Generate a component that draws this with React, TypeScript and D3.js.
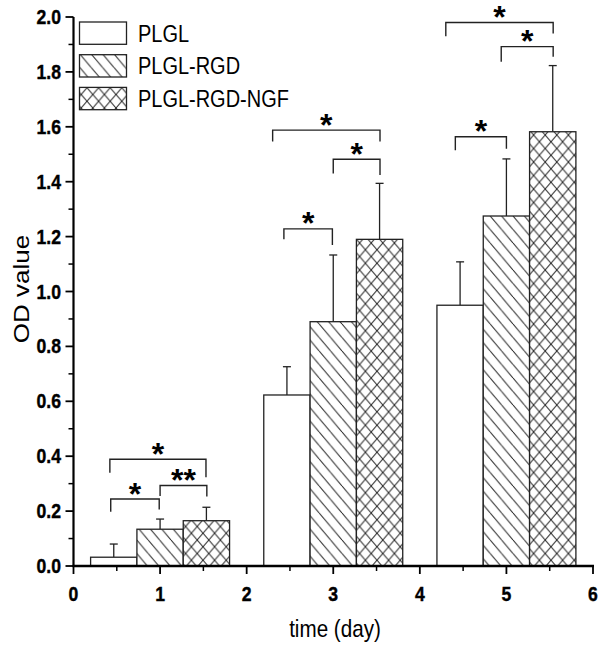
import React from "react";
import * as d3 from "d3";

const days = [1, 3, 5];
const seriesNames = ["PLGL", "PLGL-RGD", "PLGL-RGD-NGF"];
const plglMean = [0.032, 0.623, 0.95];
const plglErr = [0.048, 0.103, 0.158];
const rgdMean = [0.134, 0.89, 1.275];
const rgdErr = [0.037, 0.243, 0.208];
const ngfMean = [0.165, 1.19, 1.582];
const ngfErr = [0.049, 0.204, 0.241];
const xTicks = [0, 1, 2, 3, 4, 5, 6];
const yTicks = [0, 0.2, 0.4, 0.6, 0.8, 1.0, 1.2, 1.4, 1.6, 1.8, 2.0];

// significance brackets: x1, x2 (day units), y (OD), drops of left/right legs (OD), label
const bracketX1 = [0.42, 0.43, 1.0, 2.3, 3.0, 2.43, 4.3, 4.94, 4.41];
const bracketX2 = [1.53, 0.99, 1.54, 3.54, 3.54, 2.99, 5.54, 5.54, 5.0];
const bracketY = [0.389, 0.244, 0.293, 1.588, 1.482, 1.228, 1.98, 1.892, 1.564];
const bracketDrop1 = [0.049, 0.046, 0.038, 0.042, 0.052, 0.038, 0.05, 0.055, 0.049];
const bracketDrop2 = [0.066, 0.038, 0.04, 0.042, 0.058, 0.059, 0.04, 0.037, 0.044];
const bracketLabel = ["*", "*", "**", "*", "*", "*", "*", "*", "*"];

const BAR_W = 0.535;
const FONT = "'Liberation Sans', Arial, sans-serif";
const SQ = 0.88;

export default function App() {
  const x = d3.scaleLinear().domain([0, 6]).range([73.5, 593]);
  const y = d3.scaleLinear().domain([0, 2]).range([566, 17]);

  const series = [
    { name: seriesNames[0], mean: plglMean, err: plglErr, fill: "#fff", off: -1 },
    { name: seriesNames[1], mean: rgdMean, err: rgdErr, fill: "url(#hatch)", off: 0 },
    { name: seriesNames[2], mean: ngfMean, err: ngfErr, fill: "url(#cross)", off: 1 },
  ];

  const minorY = d3.range(0.1, 2.0, 0.2);
  const minorX = d3.range(0.5, 6, 1);
  const stroke = "#222";

  return (
    <svg width={600} height={652} style={{ position: "absolute", left: 0, top: 0, background: "#fff" }}>
      <defs>
        <pattern id="hatch" patternUnits="userSpaceOnUse" width={11.4} height={13.5}>
          <rect width={11.4} height={13.5} fill="#fff" />
          <path d="M0,0 L11.4,13.5 M-11.4,0 L0,13.5 M11.4,0 L22.8,13.5" stroke="#222" strokeWidth={1} />
        </pattern>
        <pattern id="cross" patternUnits="userSpaceOnUse" width={11.6} height={13.5}>
          <rect width={11.6} height={13.5} fill="#fff" />
          <path d="M0,0 L11.6,13.5 M11.6,0 L0,13.5" stroke="#222" strokeWidth={1} />
        </pattern>
      </defs>

      {/* bars */}
      {series.map((s, si) =>
        days.map((d, i) => {
          const cx = d + s.off * BAR_W;
          const x0 = x(cx - BAR_W / 2);
          const x1 = x(cx + BAR_W / 2);
          return (
            <g key={`${si}-${i}`}>
              <line x1={x(cx)} x2={x(cx)} y1={y(s.mean[i])} y2={y(s.mean[i] + s.err[i])} stroke={stroke} strokeWidth={1.3} />
              <line x1={x(cx) - 4} x2={x(cx) + 4} y1={y(s.mean[i] + s.err[i])} y2={y(s.mean[i] + s.err[i])} stroke={stroke} strokeWidth={1.3} />
              <rect x={x0} y={y(s.mean[i])} width={x1 - x0} height={y(0) - y(s.mean[i])} fill={s.fill} stroke={stroke} strokeWidth={1.3} />
            </g>
          );
        })
      )}

      {/* brackets */}
      {bracketX1.map((bx1, i) => {
        const X1 = x(bx1), X2 = x(bracketX2[i]), Y = y(bracketY[i]);
        return (
          <g key={`b${i}`}>
            <path
              d={`M${X1},${y(bracketY[i] - bracketDrop1[i])} L${X1},${Y} L${X2},${Y} L${X2},${y(bracketY[i] - bracketDrop2[i])}`}
              fill="none" stroke={stroke} strokeWidth={1.4}
            />
            <text x={(X1 + X2) / 2} y={Y + 5.5} textAnchor="middle" fontFamily={FONT} fontWeight="bold" fontSize={32} fill="#000">
              {bracketLabel[i]}
            </text>
          </g>
        );
      })}

      {/* axes */}
      <line x1={x(0)} x2={x(0)} y1={y(0) + 1} y2={y(2)} stroke="#000" strokeWidth={2.2} />
      <line x1={x(0) - 1} x2={x(6) + 1} y1={y(0)} y2={y(0)} stroke="#000" strokeWidth={2.4} />
      {yTicks.map((t) => (
        <g key={`yt${t}`}>
          <line x1={x(0) - 8} x2={x(0)} y1={y(t)} y2={y(t)} stroke="#000" strokeWidth={1.8} />
          <g transform={`translate(61,${y(t) + 7}) scale(${SQ},1)`}>
            <text textAnchor="end" fontFamily={FONT} fontWeight="bold" fontSize={20} fill="#000" stroke="#000" strokeWidth={0.4}>
              {t.toFixed(1)}
            </text>
          </g>
        </g>
      ))}
      {minorY.map((t) => (
        <line key={`ym${t}`} x1={x(0) - 5} x2={x(0)} y1={y(t)} y2={y(t)} stroke="#000" strokeWidth={1.5} />
      ))}
      {xTicks.map((t) => (
        <g key={`xt${t}`}>
          <line x1={x(t)} x2={x(t)} y1={y(0)} y2={y(0) + 8} stroke="#000" strokeWidth={1.8} />
          <g transform={`translate(${x(t)},601) scale(${SQ},1)`}>
            <text textAnchor="middle" fontFamily={FONT} fontWeight="bold" fontSize={20} fill="#000" stroke="#000" strokeWidth={0.4}>
              {t}
            </text>
          </g>
        </g>
      ))}
      {minorX.map((t) => (
        <line key={`xm${t}`} x1={x(t)} x2={x(t)} y1={y(0)} y2={y(0) + 5} stroke="#000" strokeWidth={1.5} />
      ))}

      {/* axis titles */}
      <g transform={`translate(335,637) scale(0.86,1)`}>
        <text textAnchor="middle" fontFamily={FONT} fontSize={24} fill="#000">time (day)</text>
      </g>
      <g transform={`translate(29,289) rotate(-90) scale(1,0.86)`}>
        <text textAnchor="middle" fontFamily={FONT} fontSize={26} fill="#000">OD value</text>
      </g>

      {/* legend */}
      {series.map((s, i) => (
        <g key={`lg${i}`}>
          <rect x={79.5} y={22 + i * 32.7} width={47} height={22.3} fill={s.fill} stroke={stroke} strokeWidth={1.3} />
          <g transform={`translate(138,${41.7 + i * 32.7}) scale(0.85,1)`}>
            <text fontFamily={FONT} fontSize={23.5} fill="#000">{s.name}</text>
          </g>
        </g>
      ))}
    </svg>
  );
}
